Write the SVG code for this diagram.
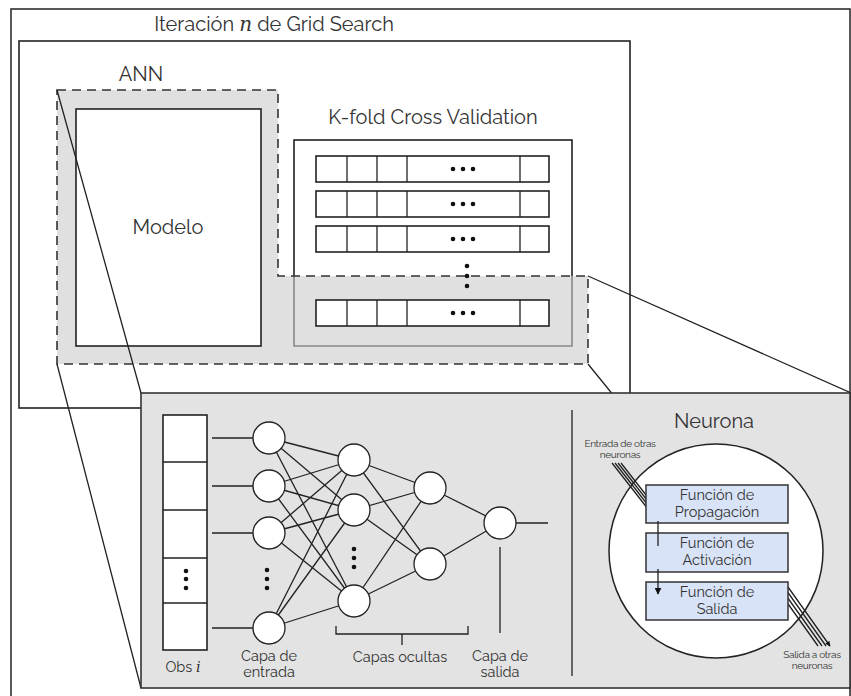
<svg xmlns="http://www.w3.org/2000/svg" width="851" height="696" viewBox="0 0 851 696">
<defs>
<style>
text{font-family:Raleway,Lato,"Open Sans","Liberation Sans",sans-serif;fill:#333;font-weight:400}
.t20{font-size:20px;text-anchor:middle}
.t15{font-size:14.5px;text-anchor:middle}
.t16{font-size:14.5px;text-anchor:middle}
.t10{font-size:10px;text-anchor:middle;letter-spacing:-0.3px}
.ln{stroke:#222;stroke-width:1.3;fill:none}
.box{fill:#fff;stroke:#222;stroke-width:1.6}
.node{fill:#fff;stroke:#222;stroke-width:1.3}
.fb{fill:#d9e3f7;stroke:#333;stroke-width:1.5}
.dot{fill:#111}
.mi{font-family:"DejaVu Serif","Liberation Serif",serif;font-style:italic}
</style>
<marker id="ah" viewBox="0 0 10 10" refX="9" refY="5" markerWidth="7" markerHeight="7" markerUnits="userSpaceOnUse" orient="auto">
<path d="M0,0 L10,5 L0,10 z" fill="#111"/>
</marker>
<marker id="ah2" viewBox="0 0 10 10" refX="9" refY="5" markerWidth="6" markerHeight="5" markerUnits="userSpaceOnUse" orient="auto">
<path d="M0,0 L10,5 L0,10 z" fill="#111"/>
</marker>
</defs>
<rect width="851" height="696" fill="#fff"/>
<rect x="11" y="9" width="839" height="700" fill="none" stroke="#222" stroke-width="1.5"/>
<text class="t20" x="274" y="31">Iteración <tspan class="mi">n</tspan> de Grid Search</text>
<g id="grid-search">
<rect x="19" y="41" width="611" height="367" fill="none" stroke="#222" stroke-width="1.6"/>
</g>
<text class="t20" x="141" y="81">ANN</text>
<text class="t20" x="433" y="124">K-fold Cross Validation</text>
<g id="kfold">
<rect x="294" y="140" width="278" height="206" class="box"/>
</g>
<g id="ann-region">
<polygon points="57,90 278,90 278,276 588,276 588,364 57,364" fill="#e0e0e0"/>
<path d="M294,276 V346 H572 V276" fill="none" stroke="#888" stroke-width="1.6"/>
</g>
<g id="modelo">
<rect x="76" y="109" width="185" height="237" class="box"/>
<text class="t20" x="168" y="234">Modelo</text>
</g>
<g id="folds">
<g id="fold1">
<rect x="316" y="156" width="233" height="26" class="box"/>
<path d="M347,156V182M377,156V182M407,156V182M520,156V182" class="ln" stroke-width="1.6"/>
<circle cx="453" cy="169" r="2.3" class="dot"/><circle cx="463" cy="169" r="2.3" class="dot"/><circle cx="473" cy="169" r="2.3" class="dot"/>
</g>
<g id="fold2">
<rect x="316" y="191" width="233" height="26" class="box"/>
<path d="M347,191V217M377,191V217M407,191V217M520,191V217" class="ln" stroke-width="1.6"/>
<circle cx="453" cy="204" r="2.3" class="dot"/><circle cx="463" cy="204" r="2.3" class="dot"/><circle cx="473" cy="204" r="2.3" class="dot"/>
</g>
<g id="fold3">
<rect x="316" y="226" width="233" height="26" class="box"/>
<path d="M347,226V252M377,226V252M407,226V252M520,226V252" class="ln" stroke-width="1.6"/>
<circle cx="453" cy="239" r="2.3" class="dot"/><circle cx="463" cy="239" r="2.3" class="dot"/><circle cx="473" cy="239" r="2.3" class="dot"/>
</g>
<circle cx="467" cy="266" r="2.3" class="dot"/><circle cx="467" cy="276" r="2.3" class="dot"/><circle cx="467" cy="286" r="2.3" class="dot"/>
<g id="foldk">
<rect x="316" y="300" width="233" height="26" class="box"/>
<path d="M347,300V326M377,300V326M407,300V326M520,300V326" class="ln" stroke-width="1.6"/>
<circle cx="453" cy="313" r="2.3" class="dot"/><circle cx="463" cy="313" r="2.3" class="dot"/><circle cx="473" cy="313" r="2.3" class="dot"/>
</g>
</g>
<polygon points="57,90 278,90 278,276 588,276 588,364 57,364" fill="none" stroke="#333" stroke-width="1.6" stroke-dasharray="9,6"/>
<g id="zoom-lines">
<path d="M57,90 L141,393 M57,364 L141,688 M588,276 L851,393 M588,364 L851,688" class="ln"/>
</g>
<g id="panel">
<rect x="141" y="393" width="709" height="295" fill="#e3e3e3" stroke="#333" stroke-width="1.6"/>
<path d="M572,410 V676" class="ln" stroke-width="1.6"/>
</g>
<g id="connectors">
<path class="ln" d="M212,438H253M212,486H253M212,533H253M212,628H253M516,523H548
M269,438L354,460M269,438L354,510M269,438L354,601
M269,486L354,460M269,486L354,510M269,486L354,601
M269,533L354,460M269,533L354,510M269,533L354,601
M269,628L354,460M269,628L354,510M269,628L354,601
M354,460L430,488M354,460L430,564M354,510L430,488M354,510L430,564M354,601L430,488M354,601L430,564
M430,488L500,523M430,564L500,523"/>
<path class="ln" d="M336,626V634H468V626M402,634V645M500,547V633"/>
</g>
<g id="obs">
<rect x="163" y="415" width="44" height="235" class="box" stroke-width="1.3"/>
<path d="M163,462H207M163,510H207M163,558H207M163,603H207" class="ln"/>
<circle cx="186" cy="571" r="2.3" class="dot"/><circle cx="186" cy="579" r="2.3" class="dot"/><circle cx="186" cy="588" r="2.3" class="dot"/>
<text class="t15" x="183" y="672">Obs <tspan class="mi">i</tspan></text>
</g>
<g id="input-layer">
<circle cx="269" cy="438" r="16" class="node"/>
<circle cx="269" cy="486" r="16" class="node"/>
<circle cx="269" cy="533" r="16" class="node"/>
<circle cx="269" cy="628" r="16" class="node"/>
<circle cx="267" cy="570" r="2.3" class="dot"/><circle cx="267" cy="579" r="2.3" class="dot"/><circle cx="267" cy="588" r="2.3" class="dot"/>
<text class="t15" x="269" y="661">Capa de</text>
<text class="t15" x="269" y="677">entrada</text>
</g>
<g id="hidden-layer-1">
<circle cx="354" cy="460" r="16" class="node"/>
<circle cx="354" cy="510" r="16" class="node"/>
<circle cx="354" cy="601" r="16" class="node"/>
<circle cx="354" cy="549" r="2.3" class="dot"/><circle cx="354" cy="558" r="2.3" class="dot"/><circle cx="354" cy="567" r="2.3" class="dot"/>
</g>
<g id="hidden-layer-2">
<circle cx="430" cy="488" r="16" class="node"/>
<circle cx="430" cy="564" r="16" class="node"/>
<text class="t15" x="400" y="662">Capas ocultas</text>
</g>
<g id="output-layer">
<circle cx="500" cy="523" r="16" class="node"/>
<text class="t15" x="500" y="661">Capa de</text>
<text class="t15" x="500" y="677">salida</text>
</g>
<g id="neurona">
<text class="t20" x="714" y="428">Neurona</text>
<circle cx="716" cy="551" r="107" fill="#fff" stroke="#222" stroke-width="1.5"/>
<text class="t10" x="620" y="447">Entrada de otras</text>
<text class="t10" x="620" y="458">neuronas</text>
<path class="ln" stroke-width="1.1" d="M612,463L648,509M615,463L651,509M618,463L654,509M621,463L657,509"/>
<path class="ln" stroke-width="1.1" marker-end="url(#ah2)" d="M776,587L818,646M780,587L822,646M784,587L826,646M788,587L830,646"/>
<text class="t10" x="812" y="658">Salida a otras</text>
<text class="t10" x="812" y="669">neuronas</text>
</g>
<g id="f-propagacion">
<rect x="646" y="485" width="142" height="38" class="fb"/>
<text class="t16" x="717" y="500">Función de</text>
<text class="t16" x="717" y="517">Propagación</text>
</g>
<g id="f-activacion">
<rect x="646" y="533" width="142" height="39" class="fb"/>
<text class="t16" x="717" y="548">Función de</text>
<text class="t16" x="717" y="565">Activación</text>
</g>
<g id="f-salida">
<rect x="646" y="582" width="142" height="38" class="fb"/>
<text class="t16" x="717" y="597">Función de</text>
<text class="t16" x="717" y="614">Salida</text>
</g>
<g id="neuron-arrows">
<path class="ln" stroke-width="1.2" marker-end="url(#ah)" d="M658,521V546M658,569V594"/>
</g>
</svg>
